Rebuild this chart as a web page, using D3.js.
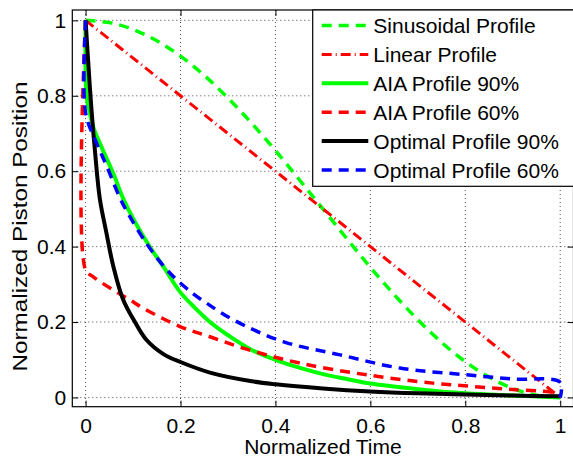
<!DOCTYPE html>
<html>
<head>
<meta charset="utf-8">
<script src="https://cdn.jsdelivr.net/npm/d3@7"></script>
<style>
  body { margin: 0; background: #fff; }
  text { font-family: "Liberation Sans", Arial, sans-serif; fill: #000; }
</style>
</head>
<body>
<div id="chart"></div>
<script>
// Normalized piston position vs normalized time

// data: [time, position]
var sinusoidal = [[0,1.0],[0.05,0.994],[0.1,0.976],[0.15,0.946],[0.2,0.905],[0.25,0.854],[0.3,0.794],
  [0.35,0.727],[0.4,0.655],[0.45,0.578],[0.5,0.5],[0.55,0.422],[0.6,0.345],[0.65,0.273],[0.7,0.206],
  [0.75,0.146],[0.8,0.095],[0.85,0.054],[0.9,0.024],[0.95,0.006],[1.0,0.0]];
var linear = [[0,1.0],[0.5,0.5],[1.0,0.0]];
var aia90 = [[0,1.0],[0.002,0.8],[0.008,0.76],[0.018,0.71],[0.035,0.66],[0.058,0.595],[0.079,0.528],
  [0.1,0.475],[0.135,0.40],[0.165,0.345],[0.199,0.28],[0.23,0.238],[0.262,0.20],[0.3,0.165],
  [0.35,0.126],[0.4,0.10],[0.45,0.079],[0.5,0.062],[0.55,0.049],[0.6,0.037],[0.7,0.022],
  [0.8,0.011],[0.9,0.005],[1.0,0.0]];
var aia60 = [[0,1.0],[0,0.338],[0.016,0.32],[0.058,0.285],[0.093,0.259],[0.121,0.237],[0.199,0.188],
  [0.262,0.161],[0.339,0.128],[0.452,0.091],[0.592,0.06],[0.732,0.038],[0.817,0.029],
  [0.9,0.021],[0.978,0.015],[1.0,0.01]];
var opt90 = [[0,1.0],[0.005,0.9],[0.012,0.77],[0.02,0.65],[0.03,0.527],[0.044,0.436],[0.058,0.35],
  [0.079,0.26],[0.104,0.2],[0.128,0.153],[0.164,0.115],[0.2,0.094],[0.262,0.066],[0.35,0.043],
  [0.4,0.035],[0.5,0.024],[0.6,0.016],[0.7,0.011],[0.8,0.008],[0.9,0.005],[1.0,0.003]];
var opt60 = [[0,1.0],[0,0.755],[0.023,0.675],[0.044,0.615],[0.072,0.53],[0.093,0.48],[0.128,0.409],
  [0.16,0.355],[0.192,0.312],[0.227,0.275],[0.255,0.25],[0.311,0.206],[0.416,0.148],[0.536,0.113],
  [0.662,0.078],[0.803,0.060],[0.9,0.049],[1.0,0.04],[1.0,0.0]];

var xTicks = [0, 0.2, 0.4, 0.6, 0.8, 1];
var yTicks = [0, 0.2, 0.4, 0.6, 0.8, 1];
var legendLabels = ["Sinusoidal Profile", "Linear Profile", "AIA Profile 90%",
  "AIA Profile 60%", "Optimal Profile 90%", "Optimal Profile 60%"];

// line styles in draw order
var series = [
  { data: sinusoidal, color: "#00ff00", dash: "10,7", width: 3.5, curve: d3.curveCatmullRom },
  { data: linear, color: "#ff0000", dash: "10,4,1,4", width: 3, curve: d3.curveLinear },
  { data: aia90, color: "#00ff00", dash: null, width: 4, curve: d3.curveCatmullRom.alpha(0.5) },
  { data: aia60, color: "#ff0000", dash: "10,7", width: 3.5, curve: d3.curveCatmullRom.alpha(0.5) },
  { data: opt90, color: "#000000", dash: null, width: 4, curve: d3.curveCatmullRom.alpha(0.5) },
  { data: opt60, color: "#0000ff", dash: "10,7", width: 3.5, curve: d3.curveCatmullRom.alpha(0.5) }
];

var svgWidth = 573;
var svgHeight = 459;
var box = { left: 72.3, right: 573.5, top: 10, bottom: 406.7 };

var svg = d3.select("#chart")
  .append("svg")
  .attr("width", svgWidth)
  .attr("height", svgHeight);

var xScale = d3.scaleLinear()
  .domain([-0.028, 1.028])
  .range([box.left, box.right]);

var yScale = d3.scaleLinear()
  .domain([-0.0245, 1.0275])
  .range([box.bottom, box.top]);

// grid
var grid = svg.append("g")
  .attr("stroke", "#333")
  .attr("stroke-width", 0.9)
  .attr("stroke-dasharray", "1,3");

grid.selectAll(".vgrid")
  .data(xTicks)
  .enter()
  .append("line")
  .attr("x1", d => xScale(d))
  .attr("x2", d => xScale(d))
  .attr("y1", box.top)
  .attr("y2", box.bottom);

grid.selectAll(".hgrid")
  .data(yTicks)
  .enter()
  .append("line")
  .attr("x1", box.left)
  .attr("x2", box.right)
  .attr("y1", d => yScale(d))
  .attr("y2", d => yScale(d));

// curves
var line = d3.line()
  .x(d => xScale(d[0]))
  .y(d => yScale(d[1]));

series.forEach(function(s) {
  svg.append("path")
    .datum(s.data)
    .attr("fill", "none")
    .attr("stroke", s.color)
    .attr("stroke-width", s.width)
    .attr("stroke-dasharray", s.dash)
    .attr("d", line.curve(s.curve));
});

// axes (inward ticks, like matlab)
var bottomAxis = d3.axisBottom(xScale)
  .tickValues(xTicks)
  .tickFormat(d3.format("~g"))
  .tickSizeInner(-6)
  .tickSizeOuter(0)
  .tickPadding(11);

var leftAxis = d3.axisLeft(yScale)
  .tickValues(yTicks)
  .tickFormat(d3.format("~g"))
  .tickSizeInner(-6)
  .tickSizeOuter(0)
  .tickPadding(6);

svg.append("g")
  .attr("transform", `translate(0, ${box.bottom})`)
  .call(bottomAxis);

svg.append("g")
  .attr("transform", `translate(${box.left}, 0)`)
  .call(leftAxis);

svg.append("g")
  .attr("transform", `translate(0, ${box.top})`)
  .call(d3.axisTop(xScale).tickValues(xTicks).tickFormat("").tickSizeInner(-6).tickSizeOuter(0));

svg.append("g")
  .attr("transform", `translate(${box.right}, 0)`)
  .call(d3.axisRight(yScale).tickValues(yTicks).tickFormat("").tickSizeInner(-6).tickSizeOuter(0));

svg.selectAll(".domain").remove();
svg.selectAll(".tick line").attr("stroke", "#000");
svg.selectAll(".tick text")
  .style("font-size", "21px")
  .style("font-family", "'Liberation Sans', Arial, sans-serif");

// box
svg.append("rect")
  .attr("x", box.left)
  .attr("y", box.top)
  .attr("width", box.right - box.left)
  .attr("height", box.bottom - box.top)
  .attr("fill", "none")
  .attr("stroke", "#000")
  .attr("stroke-width", 1.2);

// axis labels
svg.append("text")
  .attr("x", (xScale(0) + xScale(1)) / 2)
  .attr("y", 454)
  .attr("text-anchor", "middle")
  .style("font-size", "21px")
  .text("Normalized Time");

svg.append("text")
  .attr("transform", "translate(26.5, 226.5) rotate(-90)")
  .attr("text-anchor", "middle")
  .attr("textLength", 290)
  .attr("lengthAdjust", "spacingAndGlyphs")
  .style("font-size", "21px")
  .text("Normalized Piston Position");

// legend
var legend = { left: 312.7, top: 10, bottom: 186.3, row0: 25.5, step: 28.9 };

svg.append("rect")
  .attr("x", legend.left)
  .attr("y", legend.top)
  .attr("width", 300)
  .attr("height", legend.bottom - legend.top)
  .attr("fill", "#fff")
  .attr("stroke", "#000")
  .attr("stroke-width", 1.2);

var items = svg.selectAll(".legend-item")
  .data(series)
  .enter()
  .append("g")
  .attr("transform", (d, i) => `translate(0, ${legend.row0 + i * legend.step})`);

items.append("line")
  .attr("x1", 321.7)
  .attr("x2", 368.3)
  .attr("stroke", d => d.color)
  .attr("stroke-width", d => d.width)
  .attr("stroke-dasharray", d => d.dash);

items.append("text")
  .attr("x", 373.3)
  .attr("y", 7.5)
  .style("font-size", "21px")
  .text((d, i) => legendLabels[i]);
</script>
</body>
</html>
